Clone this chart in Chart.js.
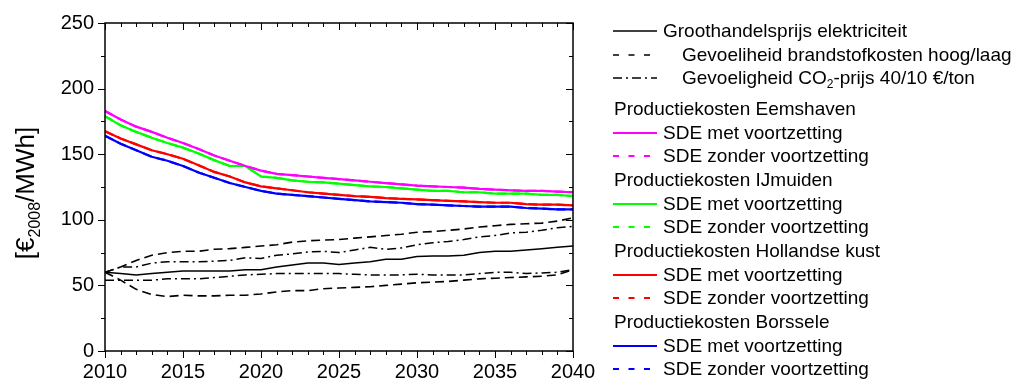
<!DOCTYPE html>
<html>
<head>
<meta charset="utf-8">
<title>Productiekosten wind op zee vs groothandelsprijs</title>
<script src="https://cdn.jsdelivr.net/npm/chart.js@4.4.1/dist/chart.umd.min.js"></script>
<style>
  html, body { margin: 0; padding: 0; background: #fff; }
  #wrap { position: relative; width: 1019px; height: 383px; overflow: hidden; }
  #chart { position: absolute; left: 0; top: 0; }
  #legend {
    position: absolute; left: 613px; top: 19px;
    font: 19px 'Liberation Sans', Arial, sans-serif; color: #000;
  }
  #legend .row { height: 23.7px; display: flex; align-items: center; white-space: nowrap; }
  #legend .row.first-group { margin-top: 7px; }
  #legend svg { flex: none; margin-right: 6px; }
  #legend .wide svg { margin-right: 25px; }
  #legend .head { padding-left: 1px; }
  #legend sub { font-size: 12px; vertical-align: -4px; line-height: 0; }
</style>
</head>
<body>
<div id="wrap">
  <canvas id="chart" width="1019" height="383"></canvas>
  <div id="legend"></div>
</div>
<script>
// ── Data (€2008/MWh) ────────────────────────────────────────────────────────
const YEARS = [2010, 2011, 2012, 2013, 2014, 2015, 2016, 2017, 2018, 2019, 2020,
               2021, 2022, 2023, 2024, 2025, 2026, 2027, 2028, 2029, 2030,
               2031, 2032, 2033, 2034, 2035, 2036, 2037, 2038, 2039, 2040];

// wholesale electricity price + sensitivities
const WHOLESALE   = [60, 59, 58, 59, 60, 61, 61, 61, 61, 62, 62,
                     64, 65.5, 67, 67, 66, 67, 68, 70, 70, 72,
                     72.5, 72.5, 73, 75, 76, 76, 77, 78, 79, 80];
const FUEL_HIGH   = [60, 64, 69, 73, 75, 76, 76, 77.5, 78, 79, 80,
                     81, 83, 84, 84.5, 85, 86, 87, 88, 89, 90.5,
                     91, 92, 93, 94.5, 95.5, 96.5, 97, 97.5, 99, 101.5];
const FUEL_LOW    = [60, 54, 47, 43, 41.5, 42.5, 42, 42, 42.5, 42.5, 43.5,
                     45, 46, 46, 47.5, 48, 48.5, 49, 50, 51, 52,
                     52.5, 53, 54, 55, 55.5, 56, 56.5, 57, 58, 62];
const CO2_HIGH    = [60, 64, 64, 67, 68, 68, 68, 68.5, 69, 71, 70.5,
                     73, 74, 75.5, 76, 75, 77, 79, 77.5, 78.5, 81,
                     82.5, 83.5, 85, 87, 88, 90, 90.5, 92, 94, 95];
const CO2_LOW     = [54, 54, 54, 54, 55, 55, 55, 56, 57, 58, 58.5,
                     59, 59, 59, 59, 59, 58.5, 58, 58, 58, 58.5,
                     58, 58, 58, 59, 60, 60, 59, 59.5, 60, 62];

// production cost per site
const EEMSHAVEN   = [183, 176.5, 171, 167, 162.5, 158.5, 154, 149, 145, 141, 137.5,
                     135, 134, 133, 132, 131, 130, 129, 128, 127, 126,
                     125.5, 125, 124.5, 123.5, 123, 122.5, 122, 122, 121.5, 121];
const IJMUIDEN    = [179, 172, 167, 162.5, 158.5, 155, 150.5, 145.5, 141, 141, 133,
                     132, 130, 129, 128.5, 127.5, 126.5, 125.5, 125, 124, 123,
                     122, 122, 121, 121, 120, 120, 120, 119, 119, 118];
const HOLLANDSE   = [167.5, 162, 157.5, 153, 150, 146.5, 141.5, 136.5, 133, 128.5, 125.5,
                     124, 122.5, 121, 120, 119, 118, 117.5, 116.5, 116, 115.5,
                     115, 114.5, 114, 113.5, 113, 113, 112, 111.5, 111.5, 111];
const BORSSELE    = [164, 158, 153, 148, 145, 141, 136, 132, 128, 125, 122,
                     120, 119, 118, 117, 116, 115, 114, 113.5, 113, 112,
                     111.5, 111, 110.5, 110, 110, 110, 109, 108.5, 108, 108];

const Y_TICKS = [0, 50, 100, 150, 200, 250];
const X_TICKS = [2010, 2015, 2020, 2025, 2030, 2035, 2040];

// ── Styles ──────────────────────────────────────────────────────────────────
const FONT = "'Liberation Sans', Arial, sans-serif";
const DASH = [9, 5];
const DASH_DOT = [9, 4, 2, 4];
const SITE_COLORS = { eems: '#FF00FF', ijm: '#00FF00', holl: '#FF0000', bors: '#0000FF' };

const pts = vals => YEARS.map((yr, i) => ({ x: yr, y: vals[i] }));

function line(label, vals, color, dash, width, order) {
  return {
    label, data: pts(vals),
    borderColor: color, backgroundColor: color,
    borderWidth: width, borderDash: dash || [],
    pointRadius: 0, tension: 0, fill: false, order,
  };
}

const datasets = [
  line('Groothandelsprijs elektriciteit', WHOLESALE, '#000', null, 1.5, 3),
  line('Gevoeligheid brandstofkosten hoog', FUEL_HIGH, '#000', DASH, 1.6, 3),
  line('Gevoeligheid brandstofkosten laag', FUEL_LOW, '#000', DASH, 1.6, 3),
  line('Gevoeligheid CO2-prijs 40 €/ton', CO2_HIGH, '#000', DASH_DOT, 1.5, 3),
  line('Gevoeligheid CO2-prijs 10 €/ton', CO2_LOW, '#000', DASH_DOT, 1.5, 3),
  // "zonder voortzetting" runs under the solid lines (same production cost)
  line('Eemshaven SDE zonder voortzetting', EEMSHAVEN, SITE_COLORS.eems, DASH, 2.2, 2),
  line('IJmuiden SDE zonder voortzetting', IJMUIDEN, SITE_COLORS.ijm, DASH, 2.2, 2),
  line('Hollandse kust SDE zonder voortzetting', HOLLANDSE, SITE_COLORS.holl, DASH, 2.2, 2),
  line('Borssele SDE zonder voortzetting', BORSSELE, SITE_COLORS.bors, DASH, 2.2, 2),
  line('Eemshaven SDE met voortzetting', EEMSHAVEN, SITE_COLORS.eems, null, 2.2, 1),
  line('IJmuiden SDE met voortzetting', IJMUIDEN, SITE_COLORS.ijm, null, 2.2, 1),
  line('Hollandse kust SDE met voortzetting', HOLLANDSE, SITE_COLORS.holl, null, 2.2, 1),
  line('Borssele SDE met voortzetting', BORSSELE, SITE_COLORS.bors, null, 2.2, 1),
];

// ── Frame, minor ticks and y-axis title (Origin-style box) ──────────────────
const frameAndTitle = {
  id: 'frameAndTitle',
  afterDraw(chart) {
    const { ctx, chartArea: a, scales: { x, y } } = chart;
    ctx.save();
    ctx.strokeStyle = '#000';
    ctx.lineWidth = 1.5;
    ctx.strokeRect(a.left, a.top, a.right - a.left, a.bottom - a.top);

    ctx.lineWidth = 1;
    ctx.beginPath();
    // x: a tick every year, long ones on the labelled years
    for (let v = x.min; v <= x.max; v += 1) {
      const px = Math.round(x.getPixelForValue(v)) + 0.5;
      const len = X_TICKS.includes(v) ? 7 : 4;
      ctx.moveTo(px, a.bottom); ctx.lineTo(px, a.bottom + len);  // out
      ctx.moveTo(px, a.top);    ctx.lineTo(px, a.top + len);     // in
    }
    // y: every 25, long ones on the labelled values
    for (let v = y.min; v <= y.max; v += 25) {
      const py = Math.round(y.getPixelForValue(v)) + 0.5;
      const len = Y_TICKS.includes(v) ? 7 : 4;
      ctx.moveTo(a.left, py);  ctx.lineTo(a.left - len, py);      // out
      ctx.moveTo(a.right, py); ctx.lineTo(a.right - len, py);     // in
    }
    ctx.stroke();

    // rotated title with subscript: [€2008/MWh]
    const parts = [
      { t: '[€', size: 26, dy: 0 },
      { t: '2008', size: 16, dy: 6 },
      { t: '/MWh]', size: 26, dy: 0 },
    ];
    ctx.fillStyle = '#000';
    ctx.textBaseline = 'alphabetic';
    let total = 0;
    parts.forEach(p => { ctx.font = `${p.size}px ${FONT}`; p.w = ctx.measureText(p.t).width; total += p.w; });
    ctx.translate(34, (a.top + a.bottom) / 2 + 6);
    ctx.rotate(-Math.PI / 2);
    let cx = -total / 2;
    parts.forEach(p => {
      ctx.font = `${p.size}px ${FONT}`;
      ctx.fillText(p.t, cx, p.dy);
      cx += p.w;
    });
    ctx.restore();
  },
};

new Chart(document.getElementById('chart'), {
  type: 'line',
  data: { datasets },
  options: {
    responsive: false,
    animation: false,
    events: [],
    layout: { padding: { top: 17, right: 446, left: 0, bottom: 0 } },
    plugins: { legend: { display: false }, tooltip: { enabled: false } },
    scales: {
      x: {
        type: 'linear', min: 2010, max: 2040,
        afterFit: s => { s.height = 32; },
        afterBuildTicks: s => { s.ticks = X_TICKS.map(v => ({ value: v })); },
        grid: { display: false, drawTicks: false },
        border: { display: false },
        ticks: { color: '#000', padding: 9, maxRotation: 0, font: { family: FONT, size: 20 },
                 callback: v => String(v) },
      },
      y: {
        type: 'linear', min: 0, max: 250,
        afterFit: s => { s.width = 105; },
        afterBuildTicks: s => { s.ticks = Y_TICKS.map(v => ({ value: v })); },
        grid: { display: false, drawTicks: false },
        border: { display: false },
        ticks: { color: '#000', padding: 11, font: { family: FONT, size: 20 } },
      },
    },
  },
  plugins: [frameAndTitle],
});

// ── Legend ──────────────────────────────────────────────────────────────────
const LEGEND_ROWS = [
  { kind: 'solid', color: '#000', w: 1.5, text: 'Groothandelsprijs elektriciteit' },
  { kind: 'dash', color: '#000', w: 1.5, text: 'Gevoeliheid brandstofkosten hoog/laag', wide: true },
  { kind: 'dashdot', color: '#000', w: 1.5, text: 'Gevoeligheid CO<sub>2</sub>-prijs 40/10 €/ton', wide: true },
  { kind: 'head', text: 'Productiekosten Eemshaven', first: true },
  { kind: 'solid', color: SITE_COLORS.eems, w: 2, text: 'SDE met voortzetting' },
  { kind: 'dash', color: SITE_COLORS.eems, w: 2, text: 'SDE zonder voortzetting' },
  { kind: 'head', text: 'Productiekosten IJmuiden' },
  { kind: 'solid', color: SITE_COLORS.ijm, w: 2, text: 'SDE met voortzetting' },
  { kind: 'dash', color: SITE_COLORS.ijm, w: 2, text: 'SDE zonder voortzetting' },
  { kind: 'head', text: 'Productiekosten Hollandse kust' },
  { kind: 'solid', color: SITE_COLORS.holl, w: 2, text: 'SDE met voortzetting' },
  { kind: 'dash', color: SITE_COLORS.holl, w: 2, text: 'SDE zonder voortzetting' },
  { kind: 'head', text: 'Productiekosten Borssele' },
  { kind: 'solid', color: SITE_COLORS.bors, w: 2, text: 'SDE met voortzetting' },
  { kind: 'dash', color: SITE_COLORS.bors, w: 2, text: 'SDE zonder voortzetting' },
];

function sample(r) {
  const dash = r.kind === 'dash' ? '6 9.5' : r.kind === 'dashdot' ? '9 4 2 4' : 'none';
  const x2 = r.kind === 'dash' ? 37 : 44;
  return `<svg width="44" height="10"><line x1="0" y1="5" x2="${x2}" y2="5" stroke="${r.color}"
    stroke-width="${r.w}" stroke-dasharray="${dash}"/></svg>`;
}

document.getElementById('legend').innerHTML = LEGEND_ROWS.map(r => {
  if (r.kind === 'head') {
    return `<div class="row head${r.first ? ' first-group' : ''}">${r.text}</div>`;
  }
  return `<div class="row${r.wide ? ' wide' : ''}">${sample(r)}<span>${r.text}</span></div>`;
}).join('');
</script>
</body>
</html>
